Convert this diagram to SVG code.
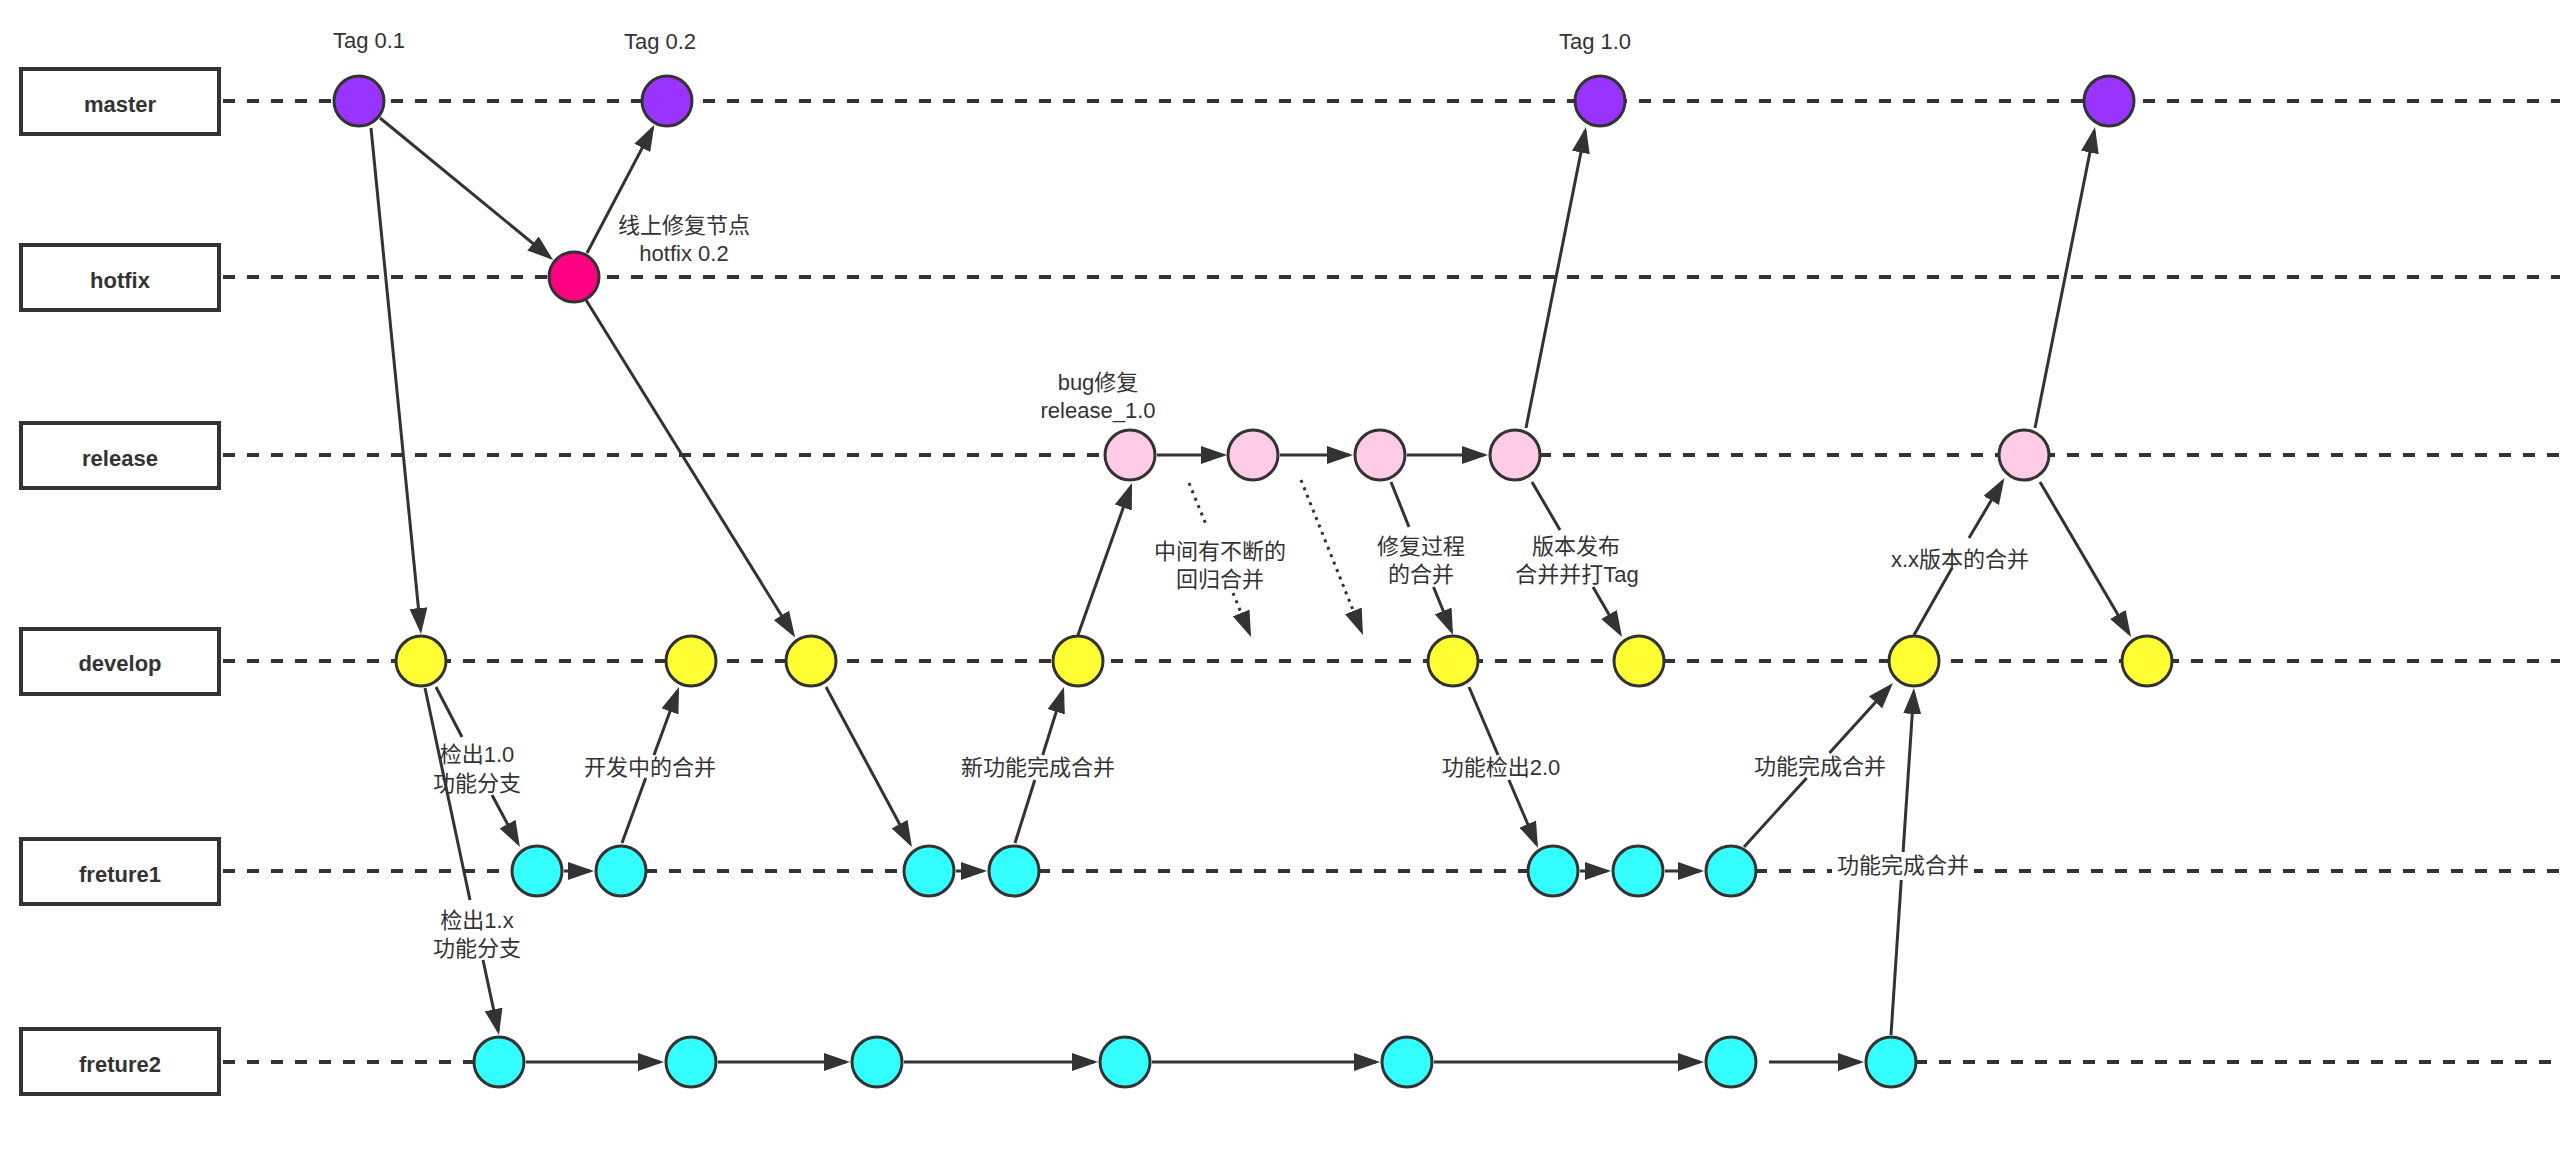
<svg xmlns="http://www.w3.org/2000/svg" width="2560" height="1156" viewBox="0 0 2560 1156">
<style>
.bg{fill:#ffffff}
.lane{fill:none;stroke:#333333;stroke-width:4;stroke-dasharray:12 12}
.box{fill:#ffffff;stroke:#333333;stroke-width:4}
.bn{font-family:"Liberation Sans","Noto Sans CJK SC",sans-serif;font-size:22px;font-weight:bold;fill:#333333;text-anchor:middle}
.t{font-family:"Liberation Sans","Noto Sans CJK SC",sans-serif;font-size:22px;fill:#333333;text-anchor:middle}
.c{fill:none;stroke:#333333;stroke-width:3;marker-end:url(#ah)}
.dot{stroke-dasharray:3 5}
.n{stroke:#333333;stroke-width:3}
.m{fill:#9933ff}
.h{fill:#ff0080}
.r{fill:#ffcce6}
.d{fill:#ffff33}
.f{fill:#33ffff}
</style>
<defs>
<marker id="ah" markerUnits="userSpaceOnUse" markerWidth="26" markerHeight="18" refX="22" refY="9" orient="auto">
<path d="M0,0 L26,9 L0,18 Z" fill="#333333"/>
</marker>
</defs>
<rect class="bg" x="0" y="0" width="2560" height="1156"/>

<g id="lane-lines">
<path class="lane" d="M223,101 H2560"/>
<path class="lane" d="M223,277 H2560"/>
<path class="lane" d="M223,455 H1130 M1515,455 H2560"/>
<path class="lane" d="M223,661 H2560"/>
<path class="lane" d="M223,871 H537 M621,871 H929 M1014,871 H1553 M1731,871 H2560"/>
<path class="lane" d="M223,1062 H499 M1891,1062 H2560"/>
</g>

<g id="lane-master"><rect class="box" x="21" y="69" width="198" height="65"/><text class="bn" x="120" y="111.5">master</text></g>
<g id="lane-hotfix"><rect class="box" x="21" y="245" width="198" height="65"/><text class="bn" x="120" y="287.5">hotfix</text></g>
<g id="lane-release"><rect class="box" x="21" y="423" width="198" height="65"/><text class="bn" x="120" y="465.5">release</text></g>
<g id="lane-develop"><rect class="box" x="21" y="629" width="198" height="65"/><text class="bn" x="120" y="671">develop</text></g>
<g id="lane-freture1"><rect class="box" x="21" y="839" width="198" height="65"/><text class="bn" x="120" y="881.5">freture1</text></g>
<g id="lane-freture2"><rect class="box" x="21" y="1029" width="198" height="65"/><text class="bn" x="120" y="1071.5">freture2</text></g>

<g id="connectors">
<path class="c" d="M380,118 L550,257.4"/>
<path class="c" d="M587,253 L652.5,128.4"/>
<path class="c" d="M371,128 L420.6,630"/>
<path class="c" d="M586,300 L793,634"/>
<path class="c" d="M436,687 L462,737 M492,795 L518,843.5"/>
<path class="c" d="M564,871 L590,871"/>
<path class="c" d="M622,843 L645.7,778 M654,755 L677.6,690.8"/>
<path class="c" d="M826,687 L910,843.5"/>
<path class="c" d="M956,871 L983,871"/>
<path class="c" d="M1015,843 L1034.8,780 M1042.7,755 L1062.8,690.8"/>
<path class="c" d="M1078,635 L1130.7,486.8"/>
<path class="c" d="M1157,455 L1223,455"/>
<path class="c" d="M1280,455 L1349,455"/>
<path class="c" d="M1407,455 L1484,455"/>
<path class="c" d="M1526,428 L1585.2,130.9"/>
<path class="c dot" d="M1189,483 L1207,527 M1233,593 L1249.5,633.3"/>
<path class="c dot" d="M1301,480 L1361.5,631.3"/>
<path class="c" d="M1391,482 L1409,527 M1433.5,587 L1451.5,631.3"/>
<path class="c" d="M1532,482 L1560,530 M1593,587 L1620,633.5"/>
<path class="c" d="M1469,687 L1498,755 M1508.9,780 L1536.4,844.3"/>
<path class="c" d="M1580,871 L1607,871"/>
<path class="c" d="M1665,871 L1700,871"/>
<path class="c" d="M1744,847 L1806.7,778 M1829.4,753 L1890.3,686"/>
<path class="c" d="M1891,1035 L1913.7,692"/>
<path class="c" d="M1914,635 L1952,568 M1969,538 L2002.4,481.5"/>
<path class="c" d="M2035,428 L2094.2,130.9"/>
<path class="c" d="M2040,482 L2129,633.5"/>
<path class="c" d="M526,1062 L660,1062"/>
<path class="c" d="M718,1062 L846,1062"/>
<path class="c" d="M904,1062 L1094,1062"/>
<path class="c" d="M1152,1062 L1376,1062"/>
<path class="c" d="M1434,1062 L1700,1062"/>
<path class="c" d="M1769,1062 L1860,1062"/>
<path class="c" d="M425,688 L470,900 M483,960 L498.2,1031"/>
</g>

<g id="node-m1"><circle class="n m" cx="359" cy="101" r="25"/></g>
<g id="node-m2"><circle class="n m" cx="667" cy="101" r="25"/></g>
<g id="node-m3"><circle class="n m" cx="1600" cy="101" r="25"/></g>
<g id="node-m4"><circle class="n m" cx="2109" cy="101" r="25"/></g>
<g id="node-h1"><circle class="n h" cx="574" cy="277" r="25"/></g>
<g id="node-r1"><circle class="n r" cx="1130" cy="455" r="25"/></g>
<g id="node-r2"><circle class="n r" cx="1253" cy="455" r="25"/></g>
<g id="node-r3"><circle class="n r" cx="1380" cy="455" r="25"/></g>
<g id="node-r4"><circle class="n r" cx="1515" cy="455" r="25"/></g>
<g id="node-r5"><circle class="n r" cx="2024" cy="455" r="25"/></g>
<g id="node-d1"><circle class="n d" cx="421" cy="661" r="25"/></g>
<g id="node-d2"><circle class="n d" cx="691" cy="661" r="25"/></g>
<g id="node-d3"><circle class="n d" cx="811" cy="661" r="25"/></g>
<g id="node-d4"><circle class="n d" cx="1078" cy="661" r="25"/></g>
<g id="node-d5"><circle class="n d" cx="1453" cy="661" r="25"/></g>
<g id="node-d6"><circle class="n d" cx="1639" cy="661" r="25"/></g>
<g id="node-d7"><circle class="n d" cx="1914" cy="661" r="25"/></g>
<g id="node-d8"><circle class="n d" cx="2147" cy="661" r="25"/></g>
<g id="node-f1a"><circle class="n f" cx="537" cy="871" r="25"/></g>
<g id="node-f1b"><circle class="n f" cx="621" cy="871" r="25"/></g>
<g id="node-f1c"><circle class="n f" cx="929" cy="871" r="25"/></g>
<g id="node-f1d"><circle class="n f" cx="1014" cy="871" r="25"/></g>
<g id="node-f1e"><circle class="n f" cx="1553" cy="871" r="25"/></g>
<g id="node-f1f"><circle class="n f" cx="1638" cy="871" r="25"/></g>
<g id="node-f1g"><circle class="n f" cx="1731" cy="871" r="25"/></g>
<g id="node-f2a"><circle class="n f" cx="499" cy="1062" r="25"/></g>
<g id="node-f2b"><circle class="n f" cx="691" cy="1062" r="25"/></g>
<g id="node-f2c"><circle class="n f" cx="877" cy="1062" r="25"/></g>
<g id="node-f2d"><circle class="n f" cx="1125" cy="1062" r="25"/></g>
<g id="node-f2e"><circle class="n f" cx="1407" cy="1062" r="25"/></g>
<g id="node-f2f"><circle class="n f" cx="1731" cy="1062" r="25"/></g>
<g id="node-f2g"><circle class="n f" cx="1891" cy="1062" r="25"/></g>

<g id="labels">
<text class="t" x="369" y="48">Tag 0.1</text>
<text class="t" x="660" y="49">Tag 0.2</text>
<text class="t" x="1595" y="49">Tag 1.0</text>
<text class="t" x="684" y="233">线上修复节点</text>
<text class="t" x="684" y="261">hotfix 0.2</text>
<text class="t" x="1098" y="390">bug修复</text>
<text class="t" x="1098" y="418">release_1.0</text>
<text class="t" x="1220" y="559">中间有不断的</text>
<text class="t" x="1220" y="587">回归合并</text>
<text class="t" x="1421" y="554">修复过程</text>
<text class="t" x="1421" y="582">的合并</text>
<text class="t" x="1576" y="554">版本发布</text>
<text class="t" x="1577" y="582">合并并打Tag</text>
<text class="t" x="1960" y="567">x.x版本的合并</text>
<text class="t" x="477" y="762">检出1.0</text>
<text class="t" x="477" y="791">功能分支</text>
<text class="t" x="650" y="775">开发中的合并</text>
<text class="t" x="477" y="928">检出1.x</text>
<text class="t" x="477" y="956">功能分支</text>
<text class="t" x="1038" y="775">新功能完成合并</text>
<text class="t" x="1501" y="775">功能检出2.0</text>
<text class="t" x="1820" y="774">功能完成合并</text>
<rect class="bg" x="1832" y="852" width="142" height="28"/>
<text class="t" x="1903" y="873">功能完成合并</text>
</g>
</svg>
